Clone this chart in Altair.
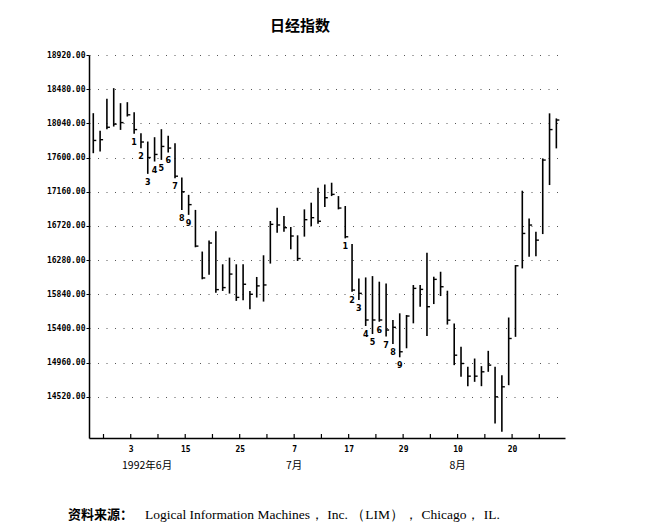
import altair as alt
import pandas as pd

# ---- data (index = trading day) ----
highs = [18171, 17944, 18356, 18493, 18300, 18313, 18184, 17913, 17806, 17862,
         17965, 17879, 17785, 17343, 17120, 16926, 16390, 16532, 16650, 16226,
         16312, 16226, 16226, 15883, 16063, 16342, 16783, 16954, 16847, 16706,
         16599, 16933, 17019, 17211, 17254, 17276, 17104, 16976, 16486, 16044,
         16057, 16074, 16002, 15980, 15509, 15595, 15573, 15959, 15959, 16374,
         16066, 16130, 15886, 15464, 15164, 14906, 15013, 14915, 15112, 14906,
         14799, 15541, 16216, 17173, 16816, 16645, 17589, 18169, 18104]
lows = [17656, 17677, 17965, 17999, 17956, 18128, 17905, 17720, 17390, 17549,
        17570, 17665, 17334, 16926, 16862, 16445, 16033, 16090, 15860, 15883,
        15849, 15755, 15763, 15648, 15798, 15746, 16235, 16633, 16646, 16419,
        16269, 16582, 16719, 16749, 16963, 17104, 16933, 16560, 15873, 15766,
        15432, 15329, 15487, 15295, 15200, 15029, 15145, 15466, 15680, 15303,
        15714, 15817, 15450, 14928, 14777, 14657, 14713, 14657, 14842, 14176,
        14069, 14670, 15292, 16173, 16323, 16331, 16615, 17246, 17718]
closes = [17820, 17830, 17990, 18030, 18050, 18150, 17960, 17800, 17600, 17640,
          17743, 17722, 17360, 17160, 16994, 16460, 16050, 16500, 15900, 15926,
          16100, 15800, 15969, 15840, 15948, 15960, 16740, 16732, 16697, 16590,
          16300, 16800, 16826, 16780, 17083, 17126, 16950, 16580, 15894, 15852,
          15509, 15509, 15509, 15380, 15415, 15100, 15560, 15916, 15903, 15680,
          16032, 15937, 15507, 15056, 14949, 14786, 14786, 14842, 14928, 14520,
          14649, 15271, 16207, 16623, 16731, 16537, 17568, 17960, 18083]
td_labels = ["", "", "", "", "", "", "1", "2", "3", "4",
             "5", "6", "7", "8", "9", "", "", "", "", "",
             "", "", "", "", "", "", "", "", "", "",
             "", "", "", "", "", "", "", "1", "2", "3",
             "4", "5", "6", "7", "8", "9", "", "", "", "",
             "", "", "", "", "", "", "", "", "", "",
             "", "", "", "", "", "", "", "", ""]

tick_pos = [1.5, 5.5, 9.5, 13.5, 17.5, 21.5, 25.5, 29.5, 33.5, 37.5,
            41.5, 45.5, 49.5, 53.5, 57.5, 61.5, 65.5]
tick_labels = ["", "3", "", "15", "", "25", "", "7", "", "17",
               "", "29", "", "10", "", "20", ""]
month_labels = ["1992年6月", "7月", "8月"]
month_pos = [7.9, 29.5, 53.5]
grid_values = [14520, 14960, 15400, 15840, 16280, 16720, 17160, 17600, 18040, 18480, 18920]

title_text = "日经指数"
source_cn = "资料来源："
source_en = "Logical Information Machines， Inc.  （LIM）， Chicago， IL."

W, H = 476, 383

bars = pd.DataFrame({
    "i": list(range(len(highs))),
    "high": highs,
    "low": lows,
    "close": closes,
    "td": td_labels,
})
td = bars[bars["td"] != ""]
ticks = pd.DataFrame({"i": tick_pos, "l": tick_labels})
months = pd.DataFrame({"i": month_pos, "m": month_labels})

xs = alt.Scale(domain=[-0.63, 69.27], nice=False, zero=False)
ys = alt.Scale(domain=[13990, 18920], nice=False, zero=False)

lab_vals = [p for p, l in zip(tick_pos, tick_labels) if l]
expr = "''"
for p, l in zip(tick_pos, tick_labels):
    if l:
        expr = f"datum.value == {p} ? '{l}' : ({expr})"

x_axis = alt.Axis(values=lab_vals, labelExpr=expr, ticks=False, grid=False, title=None,
                  domainColor="black", domainWidth=1.5, labelFont="DejaVu Sans Mono",
                  labelFontSize=8, labelColor="black", labelPadding=7, labelFontWeight="bold")
y_axis = alt.Axis(values=grid_values, format=".2f", title=None, tickSize=3, tickColor="black",
                  tickWidth=1, domainColor="black", domainWidth=1.5, labelFont="DejaVu Sans Mono",
                  labelFontSize=8, labelColor="black", labelPadding=1, labelFontWeight="bold",
                  grid=True, gridDash=[1, 7.5], gridColor="#555", gridWidth=1.1)

X = alt.X("i:Q", scale=xs, axis=x_axis)

hl = alt.Chart(bars).mark_rule(color="black", strokeWidth=1.6).encode(
    x=X,
    y=alt.Y("low:Q", scale=ys, axis=y_axis),
    y2="high:Q",
)
cl = alt.Chart(bars).mark_rule(color="black", strokeWidth=1.4, x2Offset=3).encode(
    x=X,
    x2="i:Q",
    y=alt.Y("close:Q", scale=ys, axis=y_axis),
)
tdl = alt.Chart(td).mark_text(dy=9, fontSize=8, fontWeight="bold", font="DejaVu Sans",
                              color="black", baseline="middle").encode(
    x=X,
    y=alt.Y("low:Q", scale=ys, axis=y_axis),
    text="td:N",
)
xt = alt.Chart(ticks).mark_rule(color="black", strokeWidth=1.2).encode(
    x=X,
    y=alt.value(H),
    y2=alt.value(H - 4),
)
ml = alt.Chart(months).mark_text(fontSize=10.5, font="Noto Sans CJK SC", color="black",
                                 baseline="middle").encode(
    x=X,
    y=alt.value(H + 28),
    text="m:N",
)
tt = alt.Chart(pd.DataFrame({"t": [title_text]})).mark_text(
    fontSize=15, fontWeight="bold", font="Noto Sans CJK SC", color="black",
    baseline="middle", align="center").encode(
    x=alt.value(211), y=alt.value(-29), text="t:N")
s1 = alt.Chart(pd.DataFrame({"t": [source_cn]})).mark_text(
    fontSize=13, fontWeight="bold", font="Noto Sans CJK SC", color="black",
    baseline="middle", align="left").encode(
    x=alt.value(-21), y=alt.value(460), text="t:N")
s2 = alt.Chart(pd.DataFrame({"t": [source_en]})).mark_text(
    fontSize=13.5, font="Liberation Serif", color="black",
    baseline="middle", align="left").encode(
    x=alt.value(56), y=alt.value(460), text="t:N")

chart = alt.layer(hl, cl, tdl, xt, ml, tt, s1, s2).properties(
    width=W, height=H,
    autosize=alt.AutoSizeParams(type="none"),
    padding={"left": 81, "top": 47, "right": 83, "bottom": 88},
    background="white",
).configure_view(stroke=None)

chart.save("out.html", embed_options={"renderer": "svg", "actions": False})
